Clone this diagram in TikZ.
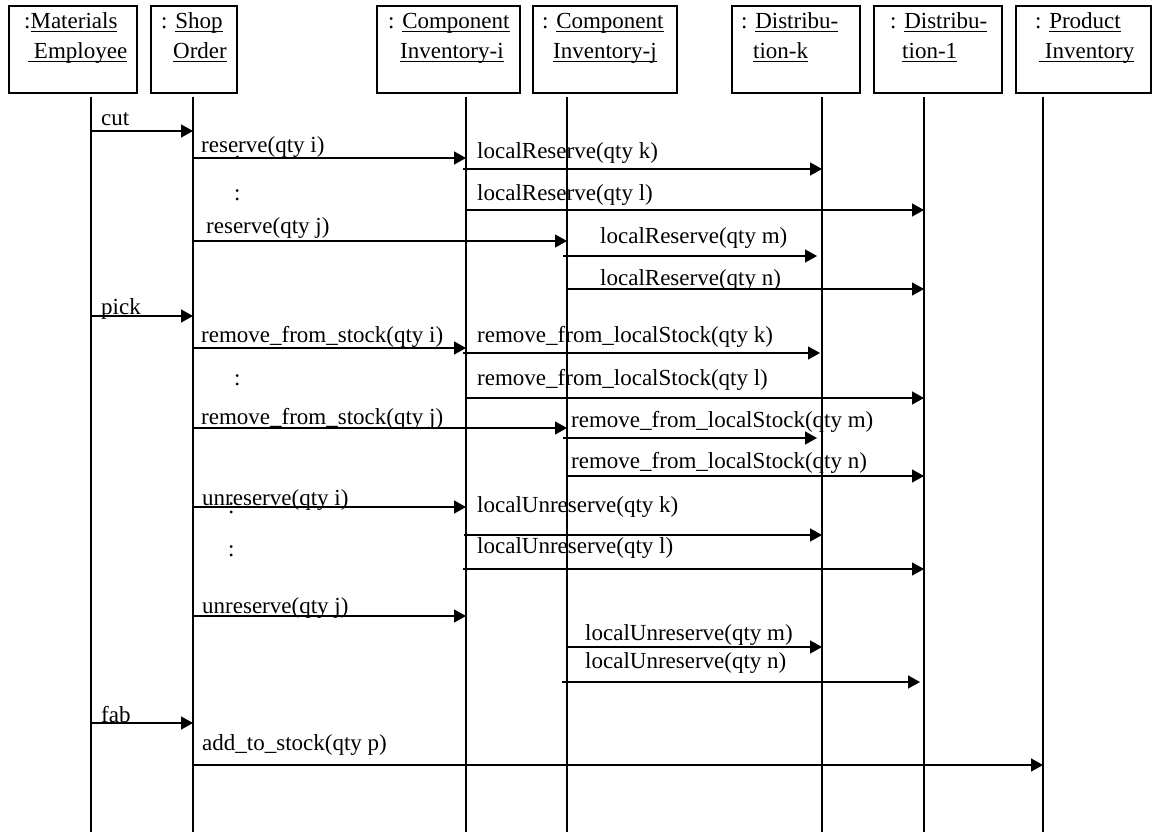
\documentclass[tikz,border=0pt]{standalone}
\usepackage{fontspec}
\setmainfont{Liberation Serif}
\usetikzlibrary{arrows.meta,calc}
\newcommand\myul[1]{\setbox0\hbox{#1}\rlap{\rule[-3.5pt]{\wd0}{1.1pt}}\box0}
\begin{document}
\begin{tikzpicture}[x=1pt,y=-1pt,
  obj/.style={draw, line width=1.3pt, inner sep=0pt, minimum height=87pt},
  life/.style={line width=1.6pt},
  msg/.style={line width=1.4pt, -{Triangle[length=12pt,width=13pt]}},
  lbl/.style={inner sep=0pt, anchor=base west, font=\fontsize{23}{27}\selectfont}]
\useasboundingbox (0,0) rectangle (1153,832);

% object boxes
\node[obj, minimum width=128pt] (b1) at (73,49.5) {};
\node[obj, minimum width=86pt]  (b2) at (194,49.5) {};
\node[obj, minimum width=143pt] (b3) at (448.5,49.5) {};
\node[obj, minimum width=144pt] (b4) at (605,49.5) {};
\node[obj, minimum width=128pt] (b5) at (796,49.5) {};
\node[obj, minimum width=128pt] (b6) at (938,49.5) {};
\node[obj, minimum width=135pt] (b7) at (1083.5,49.5) {};

\node[lbl] (t1a) at (24,29) {:\myul{Materials}};
\node[lbl] (t1b) at (28,59) {\myul{\ Employee}};
\node[lbl] (t2a) at (161,29) {: \myul{Shop}};
\node[lbl] (t2b) at (173,59) {\myul{Order}};
\node[lbl] (t3a) at (388,29) {: \myul{Component}};
\node[lbl] (t3b) at (400,59) {\myul{Inventory-i}};
\node[lbl] (t4a) at (542,29) {: \myul{Component}};
\node[lbl] (t4b) at (553,59) {\myul{Inventory-j}};
\node[lbl] (t5a) at (741,29) {: \myul{Distribu-}};
\node[lbl] (t5b) at (753,59) {\myul{tion-k}};
\node[lbl] (t6a) at (890,29) {: \myul{Distribu-}};
\node[lbl] (t6b) at (902,59) {\myul{tion-1}};
\node[lbl] (t7a) at (1035,29) {: \myul{Product}};
\node[lbl] (t7b) at (1039,59) {\myul{\ Inventory}};

% lifelines
\foreach \n/\x in {1/91,2/193,3/466,4/567,5/822,6/924,7/1043} {
  \coordinate (L\n) at (\x,97);
  \coordinate (E\n) at (\x,832);
  \draw[life] (L\n) -- (E\n);
}

% message labels
\node[lbl] (m1)  at (101,125) {cut};
\node[lbl] (m2)  at (201,153) {reserve(qty i)};
\node[lbl] (m3)  at (477,158) {localReserve(qty k)};
\node[lbl] (m4)  at (477,200) {localReserve(qty l)};
\node[lbl] (m5)  at (206,233) {reserve(qty j)};
\node[lbl] (m6)  at (600,243) {localReserve(qty m)};
\node[lbl] (m7)  at (600,285) {localReserve(qty n)};
\node[lbl] (m8)  at (101,314) {pick};
\node[lbl] (m9)  at (201,342) {remove\_from\_stock(qty i)};
\node[lbl] (m10) at (477,342) {remove\_from\_localStock(qty k)};
\node[lbl] (m11) at (477,385) {remove\_from\_localStock(qty l)};
\node[lbl] (m12) at (201,424) {remove\_from\_stock(qty j)};
\node[lbl] (m13) at (571,427) {remove\_from\_localStock(qty m)};
\node[lbl] (m14) at (571,468) {remove\_from\_localStock(qty n)};
\node[lbl] (m15) at (202,505) {unreserve(qty i)};
\node[lbl] (m16) at (477,512) {localUnreserve(qty k)};
\node[lbl] (m17) at (477,553) {localUnreserve(qty l)};
\node[lbl] (m18) at (202,613) {unreserve(qty j)};
\node[lbl] (m19) at (585,640) {localUnreserve(qty m)};
\node[lbl] (m20) at (585,668) {localUnreserve(qty n)};
\node[lbl] (m21) at (101,722) {fab};
\node[lbl] (m22) at (202,750) {add\_to\_stock(qty p)};

% stray ellipsis colons
\node[lbl] (c0) at (234.5,158.5) {.};
\node[lbl] (c1) at (234,200) {:};
\node[lbl] (c2) at (234,385) {:};
\node[lbl] (c3) at (228,513) {:};
\node[lbl] (c4) at (228,556) {:};

% messages
\draw[msg] (L1 |- 0,131) -- (L2 |- 0,131);
\draw[msg] (L2 |- 0,158) -- (L3 |- 0,158);
\draw[msg] ($(L3 |- 0,169)+(-3,0)$) -- (L5 |- 0,169);
\draw[msg] (L3 |- 0,210) -- (L6 |- 0,210);
\draw[msg] (L2 |- 0,241) -- (L4 |- 0,241);
\draw[msg] ($(L4 |- 0,256)+(-4,0)$) -- ($(L5 |- 0,256)+(-5,0)$);
\draw[msg] (L4 |- 0,289) -- (L6 |- 0,289);
\draw[msg] (L1 |- 0,316) -- (L2 |- 0,316);
\draw[msg] (L2 |- 0,348) -- (L3 |- 0,348);
\draw[msg] ($(L3 |- 0,353)+(-3,0)$) -- ($(L5 |- 0,353)+(-2,0)$);
\draw[msg] (L3 |- 0,398) -- (L6 |- 0,398);
\draw[msg] (L2 |- 0,428) -- (L4 |- 0,428);
\draw[msg] ($(L4 |- 0,438)+(-4,0)$) -- ($(L5 |- 0,438)+(-5,0)$);
\draw[msg] (L4 |- 0,476) -- (L6 |- 0,476);
\draw[msg] (L2 |- 0,507) -- (L3 |- 0,507);
\draw[msg] ($(L3 |- 0,535)+(-2,0)$) -- (L5 |- 0,535);
\draw[msg] ($(L3 |- 0,569)+(-3,0)$) -- (L6 |- 0,569);
\draw[msg] (L2 |- 0,616) -- (L3 |- 0,616);
\draw[msg] (L4 |- 0,647) -- (L5 |- 0,647);
\draw[msg] ($(L4 |- 0,682)+(-5,0)$) -- ($(L6 |- 0,682)+(-4,0)$);
\draw[msg] (L1 |- 0,723) -- (L2 |- 0,723);
\draw[msg] (L2 |- 0,765) -- (L7 |- 0,765);
\end{tikzpicture}
\end{document}
